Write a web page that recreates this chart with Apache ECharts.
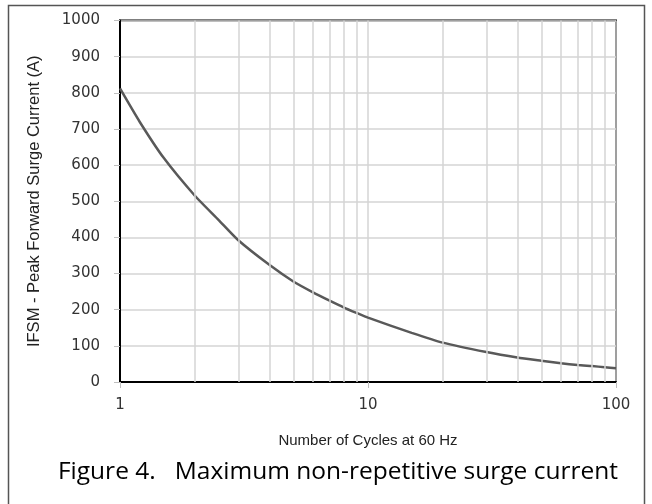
<!DOCTYPE html>
<html>
<head>
<meta charset="utf-8">
<title>Maximum non-repetitive surge current</title>
<script src="https://cdn.jsdelivr.net/npm/echarts@6/dist/echarts.min.js"></script>
<style>
  html, body { margin: 0; padding: 0; background: #fff; }
  #chart { width: 652px; height: 504px; }
</style>
</head>
<body>
<div id="chart"></div>
<script>
// values
var cycles = [1, 1.2, 1.5, 2, 2.5, 3, 4, 5, 6, 7, 8, 9, 10, 15, 20, 30, 40, 50, 60, 70, 80, 90, 100];
var surgeCurrent = [812, 720, 620, 516, 448, 392, 324, 278, 248, 225, 206, 191, 178, 136, 109, 83, 68, 59, 52, 47, 44, 41, 38];
// vertical grid lines between the decades
var minorGrid = [2, 3, 4, 5, 6, 7, 8, 9, 20, 30, 40, 50, 60, 70, 80, 90];
var xTickLabels = [1, 10, 100];

var chart = echarts.init(document.getElementById('chart'));

var labelFont = 'DejaVu Sans';
var nameFont = 'Liberation Sans, Arial, sans-serif';

var option = {
  animation: false,
  backgroundColor: '#fff',
  grid: {
    left: 120, right: 36, top: 20.5, bottom: 122,
    show: true,
    borderColor: '#000',
    borderWidth: 2,
    backgroundColor: 'transparent'
  },
  xAxis: {
    type: 'log',
    logBase: 10,
    min: 1,
    max: 100,
    name: 'Number of Cycles at 60 Hz',
    nameLocation: 'middle',
    nameGap: 51,
    nameTextStyle: { fontFamily: nameFont, fontSize: 15, color: '#222' },
    axisLine: { show: true, lineStyle: { color: '#000', width: 2 } },
    axisTick: { show: true, length: 6, lineStyle: { color: '#bfbfbf' } },
    axisLabel: {
      margin: 16,
      fontFamily: labelFont,
      fontSize: 15,
      color: '#333',
      formatter: function (v) {
        return xTickLabels.indexOf(v) >= 0 ? String(v) : '';
      }
    },
    splitLine: { show: true, lineStyle: { color: '#d4d4d4', width: 1.5 } }
  },
  yAxis: {
    type: 'value',
    min: 0,
    max: 1000,
    interval: 100,
    name: 'IFSM - Peak Forward Surge Current (A)',
    nameLocation: 'middle',
    nameGap: 77,
    nameTextStyle: { fontFamily: nameFont, fontSize: 16.5, color: '#222' },
    axisLine: { show: true, lineStyle: { color: '#000', width: 2 } },
    axisTick: { show: true, length: 6, lineStyle: { color: '#bfbfbf' } },
    axisLabel: {
      margin: 20,
      fontFamily: labelFont,
      fontSize: 15,
      color: '#333',
      formatter: function (v) { return String(v); }
    },
    splitLine: { show: true, lineStyle: { color: '#d4d4d4', width: 1.5 } }
  },
  series: [
    {
      // helper series: only carries the minor vertical grid lines
      type: 'line',
      data: [],
      z: 1,
      silent: true,
      markLine: {
        silent: true,
        symbol: 'none',
        label: { show: false },
        lineStyle: { color: '#d4d4d4', width: 1.5, type: 'solid' },
        data: minorGrid.map(function (v) { return { xAxis: v }; })
      }
    },
    {
      type: 'line',
      z: 3,
      data: cycles.map(function (c, i) { return [c, surgeCurrent[i]]; }),
      smooth: 0.2,
      showSymbol: false,
      lineStyle: { color: '#595959', width: 2.5 }
    }
  ],
  graphic: [
    {
      type: 'rect',
      shape: { x: 8.5, y: 5.5, width: 636, height: 520 },
      style: { fill: 'none', stroke: '#555', lineWidth: 1.5 },
      silent: true
    },
    {
      type: 'text',
      x: 338,
      y: 472,
      style: {
        text: 'Figure 4.   Maximum non-repetitive surge current',
        fontFamily: 'Open Sans, Noto Sans, sans-serif',
        fontSize: 24.5,
        fill: '#000',
        align: 'center',
        verticalAlign: 'middle'
      },
      silent: true
    }
  ]
};

chart.setOption(option);
window.onresize = chart.resize;
</script>
</body>
</html>
